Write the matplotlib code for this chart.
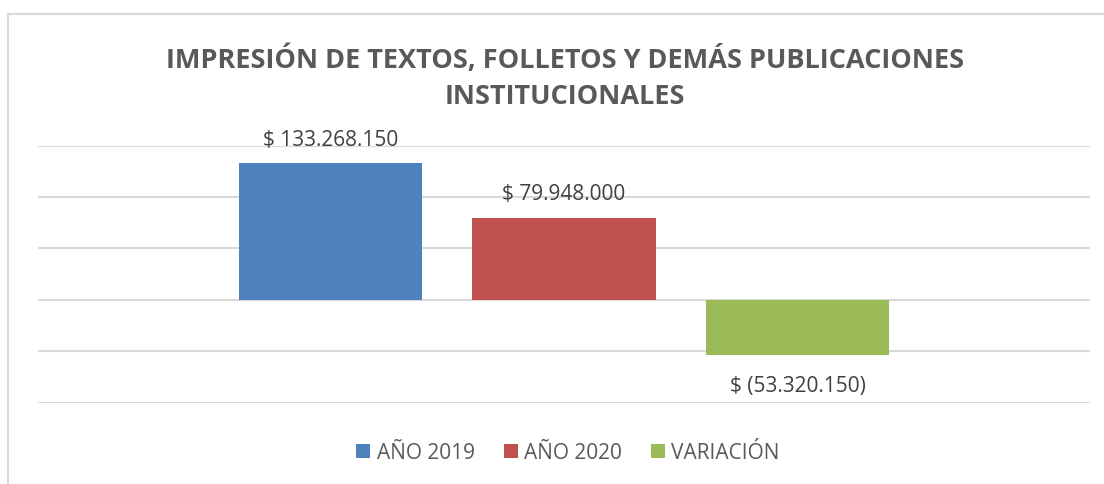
import matplotlib.pyplot as plt
from matplotlib.patches import Rectangle

series = ["AÑO 2019", "AÑO 2020", "VARIACIÓN"]
values = [133268150, 79948000, -53320150]
labels = ["$ 133.268.150", "$ 79.948.000", "$ (53.320.150)"]
colors = ["#4F81BD", "#C0504D", "#9BBB59"]
title = "IMPRESIÓN DE TEXTOS, FOLLETOS Y DEMÁS PUBLICACIONES\nINSTITUCIONALES"

W, H = 1104, 485
fig = plt.figure(figsize=(W / 100, H / 100), dpi=100)
plt.rcParams["font.family"] = ["Open Sans", "DejaVu Sans"]

# chart frame (Excel-like border, runs off right/bottom)
fig.patches.append(Rectangle((8 / W, -0.1), 1.2, 1.1 - 15 / H, transform=fig.transFigure,
                             fill=False, edgecolor="#D9D9D9", linewidth=1.5))

ax = fig.add_axes([38 / W, 1 - 403.5 / H, (1090 - 38) / W, (403.5 - 146.5) / H])
ax.set_ylim(-100e6, 150e6)
ax.set_xlim(-1.2527, 3.2527)
ax.set_yticks(range(-100000000, 150000001, 50000000))
ax.grid(axis="y", color="#D9D9D9", linewidth=1.5)
ax.set_axisbelow(True)
for s in ax.spines.values():
    s.set_visible(False)
ax.tick_params(left=False, bottom=False, labelleft=False, labelbottom=False)

for i, (name, v, lab, c) in enumerate(zip(series, values, labels, colors)):
    ax.bar(i, v, width=0.784, color=c, label=name, zorder=2)
    off = 17 if v >= 0 else -22
    ax.annotate(lab, (i, v), xytext=(0, off), textcoords="offset points",
                ha="center", va="center", fontsize=15, color="#404040")

fig.text(565 / W, 1 - 78 / H, title, ha="center", va="center", fontsize=19.5,
         fontweight="bold", color="#595959", linespacing=1.5)

fig.legend(loc="center", bbox_to_anchor=(568 / W, 1 - 454 / H), ncol=3, frameon=False,
           fontsize=15, handlelength=0.67, handleheight=0.67, handletextpad=0.3,
           columnspacing=1.4, labelcolor="#595959")

fig.savefig("out.png", dpi=100)
